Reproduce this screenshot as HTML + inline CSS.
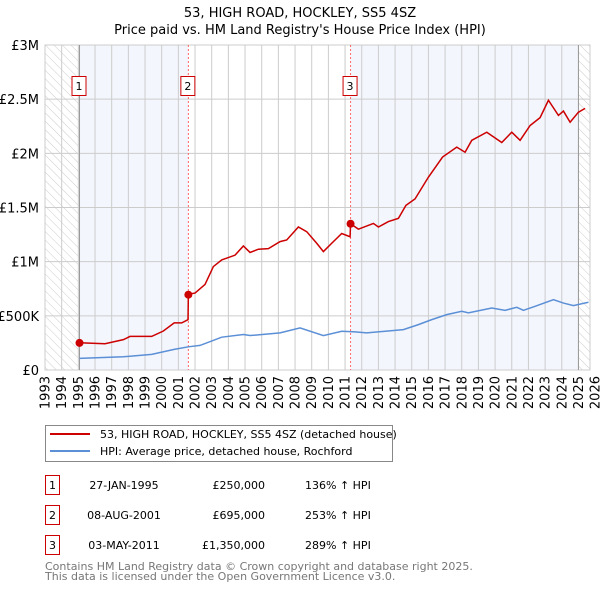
<!DOCTYPE html>
<html><head><meta charset="utf-8"><style>
body{margin:0;width:600px;height:590px;background:#fff;font-family:"DejaVu Sans","Liberation Sans",sans-serif;overflow:hidden}
svg{position:absolute;left:0;top:0}
</style></head><body>
<svg width="600" height="590" id="chart">
<defs><pattern id="hatch" width="6" height="6" patternUnits="userSpaceOnUse" patternTransform="rotate(-45)"><line x1="0" y1="0" x2="0" y2="6" stroke="#ccc" stroke-width="1"/></pattern></defs>
<text x="300" y="17" text-anchor="middle" font-size="13">53, HIGH ROAD, HOCKLEY, SS5 4SZ</text>
<text x="300" y="34" text-anchor="middle" font-size="13">Price paid vs. HM Land Registry's House Price Index (HPI)</text>
<g id="plot"></g>
<g>
<rect x="45.5" y="425.5" width="347" height="36" fill="#fff" stroke="#888"/>
<line x1="50" y1="434" x2="90" y2="434" stroke="#cc0000" stroke-width="2"/>
<text x="100" y="438" font-size="11">53, HIGH ROAD, HOCKLEY, SS5 4SZ (detached house)</text>
<line x1="50" y1="451" x2="90" y2="451" stroke="#5b8fd6" stroke-width="2"/>
<text x="100" y="455" font-size="11">HPI: Average price, detached house, Rochford</text>
</g>
<g font-size="11" id="table"></g>
<text x="45" y="570" font-size="11" fill="#777">Contains HM Land Registry data © Crown copyright and database right 2025.</text>
<text x="45" y="580" font-size="11" fill="#777">This data is licensed under the Open Government Licence v3.0.</text>
</svg>
<script>
const redYears=[1995.07,1996.6,1997.7,1998.1,1999.4,2000.1,2000.75,2001.2,2001.58,2001.6,2002.0,2002.6,2003.1,2003.6,2004.4,2004.9,2005.3,2005.8,2006.4,2007.1,2007.5,2008.2,2008.7,2009.3,2009.7,2010.2,2010.8,2011.3,2011.33,2011.8,2012.7,2013.0,2013.6,2014.2,2014.65,2015.2,2016.0,2016.85,2017.7,2018.2,2018.6,2019.5,2020.4,2021.0,2021.5,2022.1,2022.7,2023.2,2023.8,2024.1,2024.5,2025.0,2025.4];
const redValues=[0.251,0.242,0.28,0.31,0.31,0.36,0.435,0.435,0.465,0.70,0.71,0.79,0.955,1.016,1.06,1.145,1.085,1.115,1.12,1.185,1.2,1.32,1.277,1.17,1.093,1.17,1.26,1.23,1.35,1.30,1.353,1.32,1.37,1.40,1.52,1.58,1.78,1.966,2.057,2.01,2.12,2.195,2.10,2.195,2.12,2.257,2.33,2.49,2.35,2.39,2.287,2.38,2.415];
const hpiYears=[1995.07,1997.7,1999.4,2000.75,2001.6,2002.3,2003.6,2004.9,2005.3,2007.1,2008.3,2009.7,2010.8,2011.6,2012.3,2014.5,2015.4,2016.2,2017.1,2018.0,2018.4,2019.8,2020.6,2021.3,2021.7,2022.4,2023.5,2024.1,2024.7,2025.6];
const hpiValues=[0.107,0.122,0.144,0.19,0.214,0.227,0.303,0.328,0.318,0.343,0.389,0.318,0.358,0.352,0.343,0.373,0.419,0.465,0.511,0.542,0.527,0.572,0.551,0.579,0.551,0.588,0.649,0.618,0.594,0.625];
const saleYears=[1995.07,2001.6,2011.33];
const saleValues=[0.25,0.695,1.35];
const saleLabels=["1","2","3"];
const saleDates=["27-JAN-1995","08-AUG-2001","03-MAY-2011"];
const salePrices=["£250,000","£695,000","£1,350,000"];
const saleHpi=["136% ↑ HPI","253% ↑ HPI","289% ↑ HPI"];
const yTicks=[0,0.5,1,1.5,2,2.5,3];
const yTickLabels=["£0","£500K","£1M","£1.5M","£2M","£2.5M","£3M"];
const xMin=1993,xMax=2026;
const L=45,R=590,T=45,B=370;
const X=y=>L+(y-xMin)*16.67;
const Y=v=>B-v/3*(B-T);
const NS="http://www.w3.org/2000/svg";
const plot=document.getElementById('plot');
function mk(tag,attrs,parent){const e=document.createElementNS(NS,tag);for(const k in attrs)e.setAttribute(k,attrs[k]);(parent||plot).appendChild(e);return e;}
const bg=mk('rect',{x:L,y:T,width:R-L,height:B-T,fill:'#fff'});


const endYear=2025.0;
const b1=mk('rect',{x:X(saleYears[0]),y:T,width:X(saleYears[1])-X(saleYears[0]),height:B-T,fill:'#f3f6fd'});


const b3=mk('rect',{x:X(saleYears[2]),y:T,width:X(endYear)-X(saleYears[2]),height:B-T,fill:'#f3f6fd'});


const h1=mk('rect',{x:L,y:T,width:X(saleYears[0])-L,height:B-T,fill:'url(#hatch)'});


const h2=mk('rect',{x:X(endYear),y:T,width:R-X(endYear),height:B-T,fill:'url(#hatch)'});


for(let yr=xMin;yr<=xMax;yr++){
 if(X(yr)<=R){const g=mk('line',{x1:X(yr),x2:X(yr),y1:T,y2:B,stroke:'#ccc','stroke-width':1});
 
 }
 const t=mk('text',{x:0,y:0,'text-anchor':'end','font-size':13,transform:`translate(${X(yr)+4.5},${B+6}) rotate(-90)`});
 
 
 t.textContent=yr;
}
yTicks.forEach((v,i)=>{
 const g=mk('line',{x1:L,x2:R,y1:Y(v),y2:Y(v),stroke:'#ccc','stroke-width':1});
 
 
 const t=mk('text',{x:L-6,y:Y(v)+5,'text-anchor':'end','font-size':13});
 
 
 t.textContent=yTickLabels[i];
});
const fr=mk('rect',{x:L,y:T,width:R-L,height:B-T,fill:'none',stroke:'#ccc'});


const s1=mk('line',{x1:X(saleYears[0]),x2:X(saleYears[0]),y1:T,y2:B,stroke:'#999','stroke-width':1});


const s2=mk('line',{x1:X(endYear),x2:X(endYear),y1:T,y2:B,stroke:'#999','stroke-width':1});


saleYears.forEach((yr,i)=>{
 if(i>0){const d=mk('line',{x1:X(yr),x2:X(yr),y1:T,y2:B,stroke:'#f66','stroke-width':1,'stroke-dasharray':'2,2'});
 
 }
 const bx=mk('rect',{x:X(yr)-7.5,y:76.5,width:14,height:19,fill:'#fff',stroke:'#cc0000'});
 
 
 const t=mk('text',{x:X(yr)-0.5,y:90,'text-anchor':'middle','font-size':11});
 
 
 t.textContent=saleLabels[i];
});
const hp=mk('polyline',{points:hpiYears.map((y,i)=>X(y)+','+Y(hpiValues[i])).join(' '),fill:'none',stroke:'#5b8fd6','stroke-width':1.5});


const rp=mk('polyline',{points:redYears.map((y,i)=>X(y)+','+Y(redValues[i])).join(' '),fill:'none',stroke:'#cc0000','stroke-width':1.5});


saleYears.forEach((yr,i)=>{
 const c=mk('circle',{cx:X(yr),cy:Y(saleValues[i]),r:4,fill:'#cc0000'});
 
 
});
const tb=document.getElementById('table');
saleYears.forEach((yr,i)=>{
 const yy=483+i*30;
 const bx=mk('rect',{x:45.5,y:yy-7.5,width:14,height:19,fill:'#fff',stroke:'#cc0000'},tb);
 
 
 const n=mk('text',{x:52.5,y:yy+6,'text-anchor':'middle'},tb);
 
 
 n.textContent=saleLabels[i];
 const d=mk('text',{x:124,y:yy+6,'text-anchor':'middle'},tb);
 
 
 d.textContent=saleDates[i];
 const p=mk('text',{x:265,y:yy+6,'text-anchor':'end'},tb);
 
 
 p.textContent=salePrices[i];
 const h=mk('text',{x:305,y:yy+6},tb);
 
 
 h.textContent=saleHpi[i];
});
</script>
</body></html>
